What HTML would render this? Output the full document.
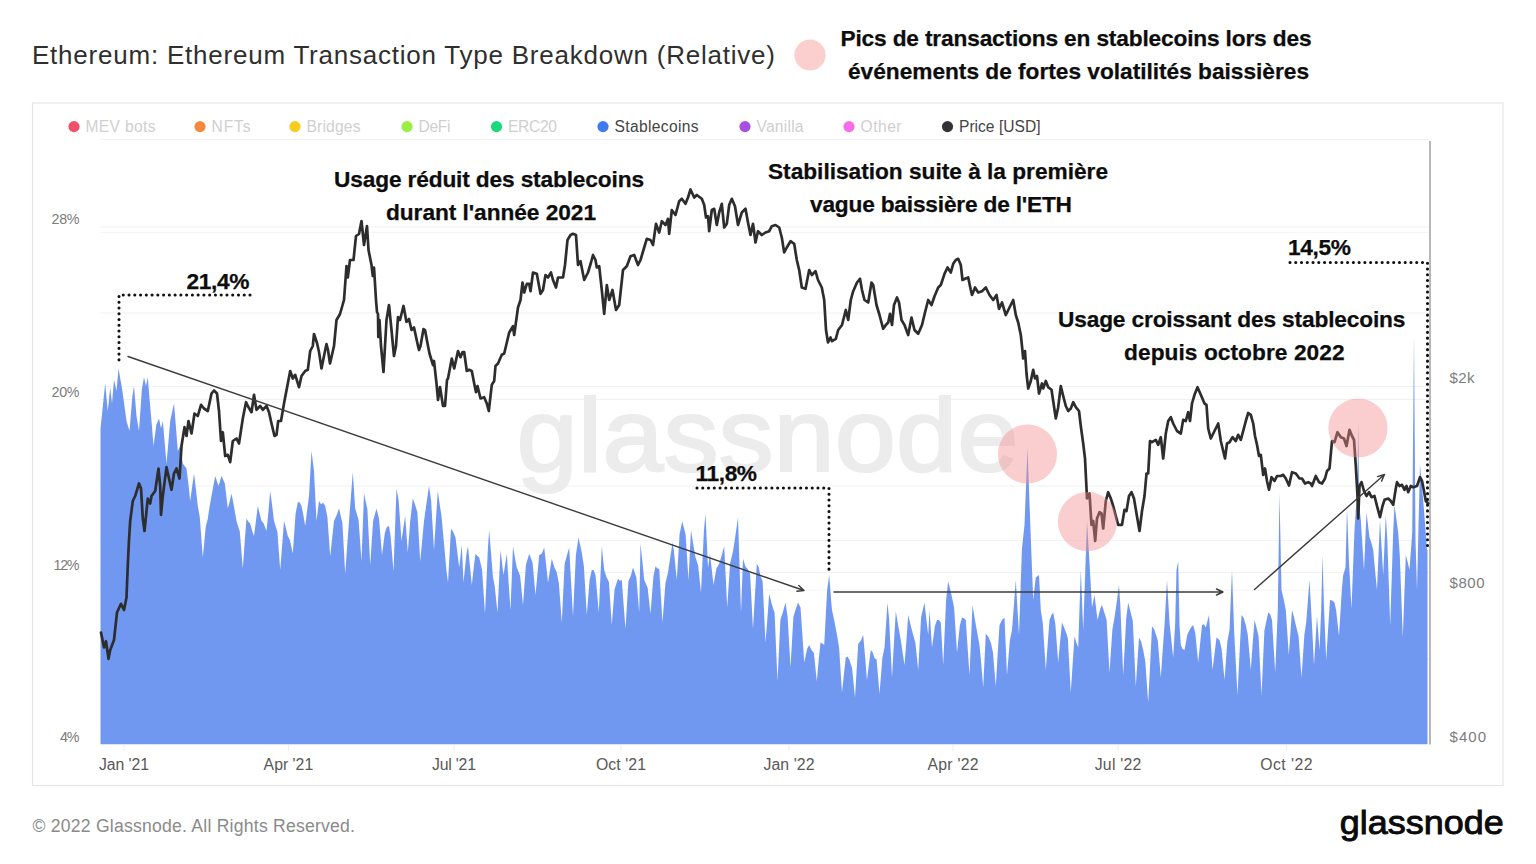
<!DOCTYPE html>
<html lang="fr"><head><meta charset="utf-8"><title>Ethereum: Ethereum Transaction Type Breakdown (Relative)</title>
<style>html,body{margin:0;padding:0;background:#fff;}body{width:1536px;height:864px;overflow:hidden;}svg{display:block;}text{font-family:'Liberation Sans', sans-serif;}.b{font-weight:bold;fill:#0d0d0d;stroke:#0d0d0d;stroke-width:0.25px;font-size:22.7px;text-anchor:middle;}.ax{font-size:15px;fill:#7c7c7c;}.xl{font-size:15.8px;fill:#585858;text-anchor:middle;}.lg{font-size:15.6px;}.off{fill:#cfcfcf;}.on{fill:#444;}</style></head><body>
<svg width="1536" height="864" viewBox="0 0 1536 864">
<rect width="1536" height="864" fill="#ffffff"/>
<text x="32" y="64" font-size="26" fill="#2f2f2f" textLength="743" lengthAdjust="spacing">Ethereum: Ethereum Transaction Type Breakdown (Relative)</text>
<circle cx="810" cy="55" r="15.6" fill="#fccfcf"/>
<text class="b" x="1076" y="46.3" textLength="471" lengthAdjust="spacing">Pics de transactions en stablecoins lors des</text>
<text class="b" x="1078.5" y="79.4" textLength="461" lengthAdjust="spacing">événements de fortes volatilités baissières</text>
<rect x="32.5" y="103" width="1470.5" height="682.5" fill="#ffffff" stroke="#e6e6e6" stroke-width="1.2"/>
<circle cx="74" cy="126.6" r="5.6" fill="#f2506a"/>
<text class="lg off" x="85.5" y="132" textLength="70" lengthAdjust="spacing">MEV bots</text>
<circle cx="200" cy="126.6" r="5.6" fill="#f5893b"/>
<text class="lg off" x="211.5" y="132" textLength="39" lengthAdjust="spacing">NFTs</text>
<circle cx="295" cy="126.6" r="5.6" fill="#f8cc1d"/>
<text class="lg off" x="306.5" y="132" textLength="54" lengthAdjust="spacing">Bridges</text>
<circle cx="407" cy="126.6" r="5.6" fill="#99ee44"/>
<text class="lg off" x="418.5" y="132" textLength="32" lengthAdjust="spacing">DeFi</text>
<circle cx="496.5" cy="126.6" r="5.6" fill="#19d97b"/>
<text class="lg off" x="508.0" y="132" textLength="49" lengthAdjust="spacing">ERC20</text>
<circle cx="603" cy="126.6" r="5.6" fill="#3f7af0"/>
<text class="lg on" x="614.5" y="132" textLength="84" lengthAdjust="spacing">Stablecoins</text>
<circle cx="745" cy="126.6" r="5.6" fill="#a84fe0"/>
<text class="lg off" x="756.5" y="132" textLength="47" lengthAdjust="spacing">Vanilla</text>
<circle cx="849" cy="126.6" r="5.6" fill="#f86ce8"/>
<text class="lg off" x="860.5" y="132" textLength="41" lengthAdjust="spacing">Other</text>
<circle cx="947.5" cy="126.6" r="5.6" fill="#333333"/>
<text class="lg on" x="959.0" y="132" textLength="81.5" lengthAdjust="spacing">Price [USD]</text>
<line x1="100" x2="1430" y1="139.5" y2="139.5" stroke="#f1f1f1" stroke-width="1"/>
<line x1="100" x2="1430" y1="227" y2="227" stroke="#f1f1f1" stroke-width="1"/>
<line x1="100" x2="1430" y1="313" y2="313" stroke="#f1f1f1" stroke-width="1"/>
<line x1="100" x2="1430" y1="399.5" y2="399.5" stroke="#f1f1f1" stroke-width="1"/>
<line x1="100" x2="1430" y1="486" y2="486" stroke="#f1f1f1" stroke-width="1"/>
<line x1="100" x2="1430" y1="572.5" y2="572.5" stroke="#f1f1f1" stroke-width="1"/>
<line x1="100" x2="1430" y1="659" y2="659" stroke="#f1f1f1" stroke-width="1"/>
<line x1="100" x2="1430" y1="232.4" y2="232.4" stroke="#f4f4f4" stroke-width="1"/>
<line x1="100" x2="1430" y1="386.5" y2="386.5" stroke="#f4f4f4" stroke-width="1"/>
<line x1="100" x2="1430" y1="540.5" y2="540.5" stroke="#f4f4f4" stroke-width="1"/>
<line x1="100" x2="1430" y1="590" y2="590" stroke="#f4f4f4" stroke-width="1"/>
<line x1="100" x2="1430" y1="654" y2="654" stroke="#f4f4f4" stroke-width="1"/>
<text x="516.5" y="471" font-size="104" fill="#ececec" stroke="#ececec" stroke-width="2.2" textLength="502" lengthAdjust="spacingAndGlyphs">glassnode</text>
<path d="M100.5,744.3 L100.5,428.5 L102.9,405.6 L105.2,383.5 L107.8,411.0 L110.2,387.2 L112.0,403.5 L114.0,379.8 L116.5,391.0 L118.5,368.5 L122.0,388.5 L124.2,404.0 L126.5,421.0 L129.5,431.0 L132.4,395.9 L134.0,386.0 L136.5,416.0 L139.0,431.0 L141.9,389.1 L144.0,377.2 L146.0,386.0 L147.8,377.2 L149.6,399.4 L151.5,421.0 L153.5,446.0 L156.4,424.6 L159.0,418.5 L161.0,428.5 L162.8,421.0 L164.6,441.4 L166.5,463.5 L168.4,442.3 L170.2,421.0 L172.1,412.0 L174.0,403.5 L175.9,426.3 L177.8,451.0 L180.2,446.0 L182.8,463.5 L184.6,466.0 L186.5,468.5 L188.4,483.8 L190.2,501.0 L192.1,487.1 L194.0,473.5 L195.9,488.9 L197.8,506.0 L199.8,517.3 L202.8,557.5 L205.7,527.1 L207.8,518.5 L209.6,506.4 L211.5,496.0 L213.4,485.8 L215.2,476.0 L218.5,486.0 L221.5,476.0 L224.8,483.2 L227.8,508.5 L229.6,501.7 L231.5,493.5 L234.0,506.5 L236.5,521.0 L239.8,531.5 L242.8,568.8 L244.6,543.0 L246.5,518.5 L248.4,521.7 L250.2,523.5 L252.1,530.7 L254.0,536.0 L255.9,521.2 L257.8,506.0 L259.6,513.3 L261.5,521.0 L263.6,523.2 L266.5,531.0 L268.4,512.0 L270.2,491.0 L272.1,505.1 L274.0,521.0 L277.4,531.8 L280.2,570.0 L282.1,546.2 L284.0,521.0 L285.9,528.1 L287.8,536.0 L289.9,539.9 L292.8,553.5 L295.6,513.5 L297.8,502.2 L299.6,502.3 L301.5,506.0 L303.4,515.2 L305.2,526.0 L307.1,510.6 L309.0,496.0 L311.5,451.0 L314.0,471.0 L316.5,521.0 L319.0,501.0 L321.1,504.3 L323.2,502.7 L325.2,506.0 L327.4,517.1 L330.2,556.2 L332.1,538.8 L334.0,521.0 L336.5,515.5 L339.0,508.5 L342.4,522.9 L345.2,573.8 L347.1,547.1 L349.0,521.0 L350.9,496.7 L352.8,472.2 L355.2,508.5 L358.6,520.1 L361.5,561.2 L364.0,493.5 L367.4,509.2 L370.2,565.0 L373.1,520.9 L376.5,508.5 L379.0,518.5 L382.0,555.0 L384.9,532.4 L386.9,526.9 L389.0,526.0 L390.6,536.0 L393.5,571.2 L396.5,488.5 L398.6,500.1 L401.5,541.0 L403.4,527.6 L405.2,516.0 L407.8,552.5 L410.2,521.0 L412.8,498.5 L415.1,504.8 L417.4,512.3 L420.2,561.2 L422.1,541.5 L424.0,521.0 L426.5,503.3 L429.0,486.0 L431.1,500.1 L434.0,550.0 L435.9,520.1 L437.8,491.0 L439.6,503.7 L441.5,516.0 L444.0,543.4 L446.5,571.0 L448.0,582.5 L451.0,528.8 L453.2,532.1 L455.5,537.5 L457.4,553.1 L459.2,567.5 L461.8,545.0 L463.5,582.5 L466.4,554.2 L468.0,546.2 L469.9,566.0 L471.8,585.0 L473.6,568.8 L475.5,553.8 L477.4,556.0 L479.2,557.5 L482.1,569.9 L485.0,613.8 L487.9,548.4 L489.2,530.0 L491.1,553.8 L493.0,577.5 L494.6,585.2 L497.5,612.5 L500.5,550.0 L503.5,575.0 L506.8,553.8 L508.6,582.7 L510.5,610.0 L513.0,546.2 L514.9,557.4 L516.8,567.5 L520.1,575.8 L523.0,605.0 L525.9,565.0 L529.2,553.8 L532.6,562.8 L535.5,595.0 L537.4,574.6 L539.2,555.0 L541.8,553.7 L544.2,547.5 L546.1,564.2 L548.0,582.5 L549.9,570.5 L551.8,558.8 L554.2,567.0 L556.8,572.5 L558.9,583.5 L561.8,622.5 L564.6,564.0 L567.0,555.0 L569.2,547.5 L571.1,581.9 L573.0,616.2 L575.9,554.8 L578.5,537.5 L581.8,552.5 L583.9,566.2 L586.8,615.0 L589.6,579.9 L591.8,570.0 L593.6,570.1 L595.5,575.0 L598.8,612.5 L601.8,546.2 L604.2,570.0 L606.5,576.9 L608.9,582.1 L611.8,625.0 L614.6,588.9 L618.0,578.8 L619.9,580.8 L621.8,580.0 L623.6,604.5 L625.5,628.8 L628.4,581.0 L630.7,576.2 L633.0,567.5 L636.4,577.4 L639.2,612.5 L640.5,543.8 L642.4,561.5 L644.2,580.0 L647.6,587.4 L650.5,613.8 L653.4,576.7 L655.5,566.2 L657.4,568.5 L659.2,568.8 L662.5,622.5 L665.4,583.5 L668.0,572.5 L670.2,557.7 L672.5,542.5 L673.9,550.8 L676.8,580.0 L679.6,534.2 L682.2,521.2 L685.6,534.2 L688.5,580.0 L691.0,530.0 L693.2,543.9 L695.5,557.5 L698.1,565.2 L701.0,592.5 L703.9,531.1 L705.5,513.8 L708.0,567.5 L710.0,553.8 L713.5,585.0 L716.4,568.4 L719.2,563.8 L721.8,554.9 L724.2,546.2 L727.2,607.5 L730.1,563.6 L733.0,551.2 L735.5,535.1 L738.0,517.5 L741.0,612.5 L743.0,558.8 L745.4,566.2 L747.7,568.9 L750.1,574.1 L753.0,628.8 L754.9,596.6 L756.8,563.8 L758.7,567.2 L760.6,576.3 L762.6,581.1 L765.5,642.5 L767.4,618.4 L769.2,593.8 L771.9,604.4 L774.6,613.0 L777.5,681.2 L780.4,619.8 L783.0,611.8 L785.5,602.5 L787.6,616.8 L790.5,667.5 L793.4,616.8 L795.7,609.2 L798.0,602.5 L800.5,607.5 L802.4,634.8 L804.2,662.5 L807.1,648.9 L809.2,645.0 L811.5,649.9 L813.9,653.0 L816.8,681.2 L818.6,660.9 L820.5,642.5 L822.4,643.6 L824.2,645.0 L827.1,590.4 L829.2,575.0 L831.5,605.0 L832.0,610.0 L834.5,621.8 L837.0,635.0 L839.1,647.6 L842.0,692.5 L843.9,674.2 L845.8,657.5 L847.6,656.5 L849.5,660.0 L852.1,668.2 L855.0,697.5 L858.2,643.8 L860.8,640.8 L863.2,635.0 L865.1,656.7 L867.0,680.0 L868.9,664.5 L870.8,650.0 L872.7,652.6 L874.6,658.3 L876.6,659.6 L879.5,693.8 L882.4,657.7 L884.5,647.5 L887.5,602.5 L889.1,619.0 L892.0,677.5 L893.9,643.5 L895.8,611.2 L898.2,625.5 L900.8,640.0 L902.6,652.6 L904.5,665.0 L906.4,640.8 L908.2,615.0 L910.8,625.7 L913.2,635.0 L915.4,642.7 L918.2,670.0 L921.1,617.3 L924.5,602.5 L926.4,619.5 L928.2,635.0 L929.5,610.0 L932.0,647.5 L934.9,626.0 L937.0,620.0 L938.9,620.1 L940.8,622.5 L943.2,665.0 L946.1,599.7 L948.2,581.2 L951.5,595.0 L954.1,607.6 L957.0,652.5 L959.9,625.2 L962.0,617.5 L963.9,618.3 L965.8,620.0 L967.6,647.2 L969.5,675.0 L972.5,605.0 L974.8,619.1 L977.2,632.6 L979.5,645.0 L981.4,665.5 L983.2,687.5 L985.8,633.8 L988.2,636.4 L990.8,642.5 L992.9,652.1 L995.8,686.2 L997.6,655.1 L999.5,625.0 L1002.0,619.9 L1004.5,617.5 L1007.0,675.0 L1009.9,639.9 L1012.0,630.0 L1013.9,605.0 L1015.8,580.0 L1019.0,635.0 L1021.9,549.2 L1024.5,525.0 L1027.5,448.5 L1030.8,537.5 L1033.2,600.0 L1035.8,577.5 L1039.0,575.0 L1040.8,610.0 L1042.8,623.2 L1045.8,670.0 L1047.6,645.2 L1049.5,620.0 L1051.4,615.0 L1053.2,612.5 L1055.3,623.5 L1058.2,662.5 L1060.1,641.5 L1062.0,622.5 L1064.0,627.2 L1065.9,632.1 L1067.8,637.9 L1070.8,692.5 L1072.6,664.5 L1074.5,636.2 L1076.4,642.8 L1078.2,647.5 L1080.8,570.0 L1083.2,630.0 L1085.1,575.9 L1087.0,521.0 L1089.5,562.5 L1092.0,607.5 L1094.5,595.0 L1097.5,620.0 L1100.4,608.3 L1102.0,605.0 L1104.3,612.5 L1106.6,619.9 L1109.5,672.5 L1112.4,629.6 L1114.5,617.5 L1116.8,601.5 L1119.0,585.0 L1120.3,604.8 L1123.2,675.0 L1126.2,618.4 L1128.2,602.5 L1130.5,612.1 L1132.8,620.9 L1135.8,686.2 L1139.0,637.5 L1141.1,641.4 L1143.2,650.0 L1145.3,661.5 L1148.2,702.5 L1150.1,665.2 L1152.0,626.2 L1154.5,630.0 L1157.8,640.5 L1160.8,677.5 L1162.6,651.8 L1164.5,625.0 L1167.0,580.0 L1169.5,622.5 L1171.4,640.8 L1173.2,657.5 L1175.2,622.5 L1176.5,570.0 L1178.2,561.2 L1179.5,625.0 L1180.8,645.0 L1182.6,649.0 L1184.5,650.0 L1187.4,634.4 L1189.5,630.0 L1191.4,626.9 L1193.2,625.0 L1195.3,633.2 L1198.2,662.5 L1200.1,643.5 L1202.0,625.0 L1203.9,624.2 L1205.8,627.5 L1209.0,615.0 L1212.5,670.0 L1214.5,654.0 L1216.5,637.5 L1219.5,640.0 L1221.6,648.8 L1224.5,680.0 L1227.4,641.0 L1229.5,630.0 L1232.0,570.0 L1234.2,632.5 L1237.5,695.0 L1239.5,654.1 L1241.5,615.0 L1243.6,617.8 L1245.8,625.0 L1247.8,634.9 L1250.8,670.0 L1252.6,644.4 L1254.5,620.0 L1256.5,627.5 L1258.6,636.5 L1261.5,695.0 L1264.4,630.6 L1266.3,621.2 L1268.2,612.5 L1270.1,613.9 L1272.0,620.0 L1275.2,672.5 L1277.8,610.0 L1279.5,492.5 L1281.5,590.0 L1283.6,599.0 L1285.8,610.0 L1288.8,655.0 L1292.0,610.0 L1293.9,616.8 L1295.8,625.0 L1298.6,636.5 L1301.5,677.5 L1304.4,634.6 L1306.2,622.5 L1309.5,580.0 L1312.0,625.0 L1314.0,665.0 L1317.0,616.2 L1319.5,650.0 L1321.2,610.0 L1322.5,555.0 L1324.0,607.5 L1326.2,660.0 L1328.1,629.2 L1330.0,600.0 L1332.2,600.5 L1334.5,602.5 L1336.1,609.9 L1339.0,636.0 L1341.9,588.4 L1343.2,575.0 L1345.5,567.5 L1347.0,507.5 L1349.0,562.5 L1351.5,609.0 L1354.4,531.8 L1355.8,510.0 L1357.2,500.0 L1358.2,421.0 L1359.2,505.0 L1360.8,520.0 L1364.0,570.0 L1366.5,512.5 L1369.5,537.5 L1371.4,542.8 L1373.2,550.0 L1375.1,570.8 L1377.0,590.0 L1380.0,520.0 L1383.2,575.0 L1385.8,515.0 L1387.3,539.2 L1390.2,625.0 L1393.2,531.4 L1394.5,505.0 L1396.4,519.0 L1398.2,532.5 L1399.8,555.6 L1402.8,637.5 L1405.8,555.0 L1407.6,561.8 L1409.5,570.0 L1412.2,532.5 L1414.0,336.0 L1415.5,540.0 L1417.0,590.0 L1418.5,525.0 L1420.0,465.0 L1423.2,500.0 L1425.1,524.5 L1427.0,550.0 L1427.5,550.0 L1427.5,744.3 Z" fill="#7198f1" stroke="none"/>
<line x1="1430" x2="1430" y1="141" y2="744.5" stroke="#9a9a9a" stroke-width="1.4"/>
<path d="M101.0,632.5 L104.0,647.5 L106.0,641.2 L108.5,658.8 L110.2,650.0 L114.0,640.0 L117.0,612.5 L121.0,603.8 L124.0,610.0 L126.5,597.5 L127.8,565.0 L129.0,540.0 L130.2,521.0 L132.8,501.0 L135.2,496.0 L139.0,483.5 L141.0,488.5 L142.8,518.5 L144.5,531.0 L147.8,498.5 L150.2,503.5 L151.5,496.0 L155.2,491.0 L158.5,468.5 L160.2,486.0 L161.0,514.8 L162.8,496.0 L166.5,467.2 L169.0,478.5 L171.5,489.8 L174.0,473.5 L176.5,468.5 L179.5,478.5 L181.5,446.0 L184.5,427.2 L186.5,436.0 L188.5,421.0 L191.5,433.5 L194.5,413.5 L197.8,416.0 L201.0,404.8 L204.0,408.5 L207.8,411.0 L211.5,393.5 L214.0,390.5 L217.0,393.5 L219.0,411.0 L221.0,441.0 L222.8,432.2 L225.2,456.0 L227.8,454.8 L230.2,462.2 L232.8,441.0 L236.5,438.5 L239.0,443.5 L242.8,418.5 L246.0,402.2 L247.8,406.0 L251.5,412.2 L254.0,394.8 L256.5,409.8 L260.2,406.0 L262.8,409.8 L266.5,406.0 L269.0,412.2 L271.5,423.5 L274.5,436.0 L276.5,434.8 L278.2,421.0 L281.0,421.0 L284.0,403.5 L287.8,383.5 L290.2,371.0 L292.8,378.5 L295.2,374.8 L299.0,387.2 L301.5,376.0 L305.2,371.0 L307.8,369.8 L310.2,351.0 L312.8,346.0 L314.0,334.0 L317.0,343.0 L319.0,352.0 L321.5,368.5 L325.0,351.0 L326.5,344.0 L328.0,350.0 L330.0,363.5 L334.0,346.0 L336.5,320.0 L340.0,314.0 L344.0,300.0 L346.5,266.0 L347.8,277.5 L350.0,260.0 L353.5,260.0 L356.0,236.0 L359.0,234.0 L361.5,221.0 L364.0,245.0 L367.0,226.0 L368.5,250.0 L371.5,265.0 L372.8,276.0 L374.0,267.5 L376.0,300.0 L377.0,312.0 L378.0,314.0 L378.3,337.0 L379.5,320.0 L381.0,346.0 L383.5,372.0 L385.0,346.0 L386.5,320.0 L389.0,305.0 L391.5,330.0 L393.0,346.0 L394.0,356.0 L396.0,346.0 L398.0,317.0 L400.0,320.0 L403.5,306.0 L406.5,322.0 L409.0,319.0 L411.5,330.0 L414.0,327.5 L418.0,346.0 L419.0,350.0 L420.5,346.0 L423.5,329.0 L425.0,330.0 L428.0,346.0 L429.5,353.5 L433.0,365.0 L434.0,361.0 L436.5,383.5 L438.0,400.0 L440.0,387.0 L443.0,406.0 L445.0,406.0 L447.0,380.0 L448.0,378.5 L451.8,358.5 L454.2,368.5 L458.0,351.0 L460.5,357.2 L462.5,352.2 L464.2,352.2 L466.8,371.0 L469.2,369.8 L471.8,371.0 L474.2,383.5 L476.0,392.2 L477.5,386.0 L480.5,398.5 L484.2,397.2 L486.8,403.5 L488.8,411.0 L490.5,396.0 L491.8,384.8 L494.2,381.0 L495.5,366.0 L498.0,363.5 L501.8,354.8 L504.2,353.5 L506.0,346.0 L509.2,332.5 L513.0,326.2 L514.2,335.0 L518.0,307.5 L520.5,300.0 L522.5,282.5 L524.2,292.5 L526.8,283.8 L529.2,283.8 L530.5,291.2 L533.0,272.5 L536.8,273.8 L540.5,293.8 L543.0,290.0 L545.5,275.0 L548.0,277.5 L551.0,272.5 L553.0,280.0 L556.0,287.5 L558.0,277.5 L563.0,277.5 L565.0,265.0 L567.5,240.0 L570.5,235.0 L573.0,233.8 L576.0,235.0 L578.0,265.0 L580.5,261.2 L584.2,280.0 L588.0,272.5 L591.0,262.5 L593.0,255.0 L595.5,260.0 L596.8,267.5 L599.2,266.2 L601.8,290.0 L604.2,313.8 L606.8,285.0 L609.2,300.0 L612.5,290.0 L616.0,310.0 L619.2,305.0 L623.0,270.0 L626.8,266.2 L630.5,256.2 L634.2,255.0 L638.0,265.0 L640.5,260.0 L644.2,247.5 L646.8,238.8 L650.5,240.0 L653.0,245.0 L656.0,223.8 L659.2,232.5 L661.8,221.2 L665.5,225.0 L668.0,218.8 L669.2,233.8 L671.8,210.0 L675.5,215.0 L679.2,201.2 L681.8,198.8 L685.5,203.8 L688.0,197.5 L690.5,189.5 L694.2,197.5 L696.8,195.0 L701.8,198.8 L704.2,205.0 L706.0,217.5 L708.0,216.2 L709.2,231.2 L711.8,210.0 L714.2,208.8 L716.8,225.0 L719.2,212.5 L721.8,203.8 L724.2,227.5 L726.8,223.8 L729.2,205.0 L731.8,198.8 L735.0,206.2 L738.0,225.0 L741.8,212.5 L745.5,208.8 L748.0,222.5 L750.5,235.0 L753.0,223.8 L755.5,242.5 L758.0,231.2 L761.8,235.0 L765.5,232.5 L769.2,231.2 L771.8,226.2 L775.5,225.0 L779.2,227.5 L781.8,237.5 L784.2,252.5 L786.8,247.5 L790.5,241.2 L794.2,243.8 L796.8,260.0 L799.2,270.0 L801.8,287.5 L805.5,288.8 L809.2,270.0 L811.8,275.0 L815.5,271.2 L818.0,280.0 L821.8,287.5 L824.2,300.0 L826.0,330.0 L828.0,342.5 L830.5,337.5 L832.0,341.2 L835.8,338.8 L838.2,330.0 L842.0,325.0 L845.8,310.0 L848.2,320.0 L850.8,300.0 L853.2,291.2 L857.0,282.5 L860.0,278.8 L862.0,290.0 L864.5,300.0 L868.2,302.5 L871.5,282.5 L873.2,285.0 L876.5,305.0 L879.5,315.0 L883.2,328.8 L885.8,325.0 L888.2,322.5 L890.0,313.8 L892.0,325.0 L894.0,305.0 L897.0,297.5 L899.0,302.5 L901.5,320.0 L904.5,325.0 L908.2,335.0 L911.5,317.5 L914.5,330.0 L918.2,333.8 L922.0,325.0 L925.0,312.5 L928.2,300.0 L931.5,305.0 L934.5,296.2 L938.2,287.5 L940.8,285.0 L944.5,273.8 L947.5,267.5 L950.8,272.5 L953.2,263.8 L955.8,260.0 L958.2,258.8 L960.8,265.0 L962.5,280.0 L965.0,278.8 L968.2,277.5 L970.8,290.0 L972.0,295.0 L975.0,287.5 L978.2,292.5 L982.0,291.2 L985.8,287.5 L989.5,295.0 L993.2,300.0 L996.5,295.0 L999.0,308.8 L1002.0,302.5 L1005.8,315.0 L1009.5,307.5 L1013.2,300.0 L1015.8,315.0 L1018.2,322.5 L1020.8,335.0 L1022.0,346.0 L1023.2,358.5 L1025.0,351.0 L1026.5,373.5 L1028.2,388.5 L1030.8,381.0 L1033.2,369.8 L1035.0,378.5 L1037.0,376.0 L1039.0,393.5 L1042.0,383.5 L1043.2,388.5 L1045.8,381.0 L1048.2,387.2 L1051.5,389.8 L1053.2,401.0 L1055.8,418.5 L1058.2,407.2 L1060.8,386.0 L1063.2,396.0 L1065.8,406.0 L1068.2,411.0 L1070.8,408.5 L1073.2,402.2 L1075.8,407.2 L1079.0,411.0 L1080.8,426.0 L1083.2,443.5 L1085.0,458.5 L1087.0,498.5 L1089.5,493.5 L1091.5,524.8 L1093.2,521.0 L1095.2,541.0 L1097.0,518.5 L1099.5,512.2 L1101.5,513.5 L1103.2,528.5 L1105.8,501.0 L1108.2,492.2 L1110.8,498.5 L1113.2,506.0 L1115.8,516.0 L1118.2,524.8 L1122.0,524.8 L1124.5,509.8 L1126.5,511.0 L1129.0,496.0 L1131.5,492.2 L1134.0,498.5 L1136.5,513.5 L1139.5,531.0 L1142.0,511.0 L1144.5,496.0 L1146.5,473.5 L1148.2,473.5 L1150.0,441.0 L1152.0,442.2 L1155.8,439.8 L1158.2,444.8 L1160.8,437.2 L1163.2,458.5 L1165.8,433.5 L1168.2,421.0 L1170.8,417.2 L1173.2,423.5 L1177.0,431.0 L1180.8,433.5 L1183.2,419.8 L1185.8,421.0 L1188.2,412.2 L1190.0,421.0 L1192.0,403.5 L1194.5,394.8 L1197.5,387.2 L1200.8,394.8 L1204.5,403.5 L1206.5,404.8 L1208.2,428.5 L1210.8,438.5 L1214.5,431.0 L1218.2,423.5 L1220.8,441.0 L1223.2,451.0 L1225.0,458.5 L1227.0,443.5 L1229.5,442.2 L1232.5,437.2 L1235.8,441.0 L1238.2,434.8 L1240.8,439.8 L1243.2,431.0 L1245.8,421.0 L1248.2,413.0 L1250.8,414.8 L1253.2,423.5 L1255.0,436.0 L1257.0,444.8 L1259.0,456.0 L1260.8,454.8 L1263.2,474.8 L1265.0,468.5 L1267.0,481.0 L1269.0,489.8 L1271.5,477.2 L1274.5,481.0 L1277.0,476.0 L1280.8,476.0 L1283.2,474.8 L1285.8,478.5 L1289.0,485.5 L1292.0,472.2 L1295.8,473.5 L1299.5,478.5 L1302.0,478.5 L1305.0,483.5 L1308.2,482.2 L1310.8,483.5 L1312.0,486.0 L1315.8,476.0 L1319.0,482.2 L1322.0,483.5 L1325.0,478.5 L1327.0,471.0 L1329.5,468.5 L1332.0,441.0 L1334.5,442.2 L1337.5,432.2 L1340.8,437.2 L1344.0,438.5 L1346.5,446.0 L1349.5,429.8 L1352.0,436.0 L1354.0,439.8 L1355.8,466.0 L1357.5,496.0 L1358.2,518.5 L1359.5,486.0 L1361.5,482.2 L1364.0,491.0 L1366.5,496.0 L1369.0,492.2 L1371.5,497.2 L1374.5,496.0 L1377.0,506.0 L1380.0,517.2 L1382.5,506.0 L1384.5,499.8 L1388.2,498.5 L1390.8,501.0 L1393.2,504.8 L1395.8,488.5 L1397.0,482.2 L1399.5,486.0 L1402.0,484.8 L1404.5,489.8 L1406.5,486.0 L1408.2,492.2 L1410.8,486.0 L1413.2,487.2 L1417.0,486.0 L1420.0,477.2 L1422.0,481.0 L1424.0,491.0 L1425.8,501.0 L1428.2,503.5" fill="none" stroke="#2d2d2d" stroke-width="2.7" stroke-linejoin="round" stroke-linecap="round"/>
<circle cx="1027.5" cy="454" r="29.6" fill="#f48a8a" fill-opacity="0.42"/>
<circle cx="1087.5" cy="521.7" r="29.6" fill="#f48a8a" fill-opacity="0.42"/>
<circle cx="1358" cy="428" r="29.6" fill="#f48a8a" fill-opacity="0.42"/>
<path d="M128,356.5 L804,590.5 M796.9,591.2 L804,590.5 L798.8,585.5" fill="none" stroke="#3c3c3c" stroke-width="1.4" stroke-linecap="round" stroke-linejoin="round"/>
<path d="M834,592 L1223,592 M1216.5,595.0 L1223,592 L1216.5,589.0" fill="none" stroke="#3c3c3c" stroke-width="1.4" stroke-linecap="round" stroke-linejoin="round"/>
<path d="M1254.5,589.5 L1384.5,474.5 M1381.6,481.1 L1384.5,474.5 L1377.6,476.6" fill="none" stroke="#3c3c3c" stroke-width="1.4" stroke-linecap="round" stroke-linejoin="round"/>
<path d="M250,295 L119,295 L119,364" fill="none" stroke="#111" stroke-width="3.1" stroke-linecap="round" stroke-dasharray="0.01 5.75"/>
<path d="M697,488 L829,488 L829,572" fill="none" stroke="#111" stroke-width="3.1" stroke-linecap="round" stroke-dasharray="0.01 5.75"/>
<path d="M1290,262.5 L1427.5,262.5 L1427.5,551" fill="none" stroke="#111" stroke-width="3.1" stroke-linecap="round" stroke-dasharray="0.01 5.75"/>
<text class="b" x="218" y="288.7" textLength="63" lengthAdjust="spacing">21,4%</text>
<text class="b" x="726.3" y="481" textLength="61.5" lengthAdjust="spacing">11,8%</text>
<text class="b" x="1319.5" y="255.2" textLength="63" lengthAdjust="spacing">14,5%</text>
<text class="b" x="489" y="186.7" textLength="310" lengthAdjust="spacing">Usage réduit des stablecoins</text>
<text class="b" x="491" y="220" textLength="210" lengthAdjust="spacing">durant l'année 2021</text>
<text class="b" x="938" y="178.6" textLength="340" lengthAdjust="spacing">Stabilisation suite à la première</text>
<text class="b" x="941" y="212.2" textLength="262" lengthAdjust="spacing">vague baissière de l'ETH</text>
<text class="b" x="1231.7" y="326.8" textLength="347.5" lengthAdjust="spacing">Usage croissant des stablecoins</text>
<text class="b" x="1234.3" y="360.4" textLength="220.5" lengthAdjust="spacing">depuis octobre 2022</text>
<text class="ax" x="51.5" y="224" style="font-size:14.3px" textLength="28" lengthAdjust="spacing">28%</text>
<text class="ax" x="51.5" y="396.5" style="font-size:14.3px" textLength="28" lengthAdjust="spacing">20%</text>
<text class="ax" x="53.5" y="569.5" style="font-size:14.3px" textLength="26" lengthAdjust="spacing">12%</text>
<text class="ax" x="60.0" y="742" style="font-size:14.3px" textLength="19.5" lengthAdjust="spacing">4%</text>
<text class="ax" x="1449.5" y="383.3" textLength="25" lengthAdjust="spacing">$2k</text>
<text class="ax" x="1449.5" y="587.8" textLength="35" lengthAdjust="spacing">$800</text>
<text class="ax" x="1449.5" y="742.3" textLength="36.5" lengthAdjust="spacing">$400</text>
<line x1="124" x2="124" y1="745" y2="751" stroke="#ececec" stroke-width="1"/>
<text class="xl" x="124" y="770.4" textLength="50" lengthAdjust="spacing">Jan '21</text>
<line x1="288.4" x2="288.4" y1="745" y2="751" stroke="#ececec" stroke-width="1"/>
<text class="xl" x="288.4" y="770.4" textLength="49.6" lengthAdjust="spacing">Apr '21</text>
<line x1="454" x2="454" y1="745" y2="751" stroke="#ececec" stroke-width="1"/>
<text class="xl" x="454" y="770.4" textLength="44" lengthAdjust="spacing">Jul '21</text>
<line x1="621" x2="621" y1="745" y2="751" stroke="#ececec" stroke-width="1"/>
<text class="xl" x="621" y="770.4" textLength="50" lengthAdjust="spacing">Oct '21</text>
<line x1="789" x2="789" y1="745" y2="751" stroke="#ececec" stroke-width="1"/>
<text class="xl" x="789" y="770.4" textLength="51" lengthAdjust="spacing">Jan '22</text>
<line x1="953" x2="953" y1="745" y2="751" stroke="#ececec" stroke-width="1"/>
<text class="xl" x="953" y="770.4" textLength="51" lengthAdjust="spacing">Apr '22</text>
<line x1="1118" x2="1118" y1="745" y2="751" stroke="#ececec" stroke-width="1"/>
<text class="xl" x="1118" y="770.4" textLength="46.5" lengthAdjust="spacing">Jul '22</text>
<line x1="1286.4" x2="1286.4" y1="745" y2="751" stroke="#ececec" stroke-width="1"/>
<text class="xl" x="1286.4" y="770.4" textLength="52.5" lengthAdjust="spacing">Oct '22</text>
<text x="32.5" y="832" font-size="17.6" fill="#8a8a8a" textLength="322.5" lengthAdjust="spacing">© 2022 Glassnode. All Rights Reserved.</text>
<text x="1339.7" y="834" font-size="34" fill="#0a0a0a" stroke="#0a0a0a" stroke-width="0.9" textLength="164" lengthAdjust="spacingAndGlyphs">glassnode</text>
</svg></body></html>
